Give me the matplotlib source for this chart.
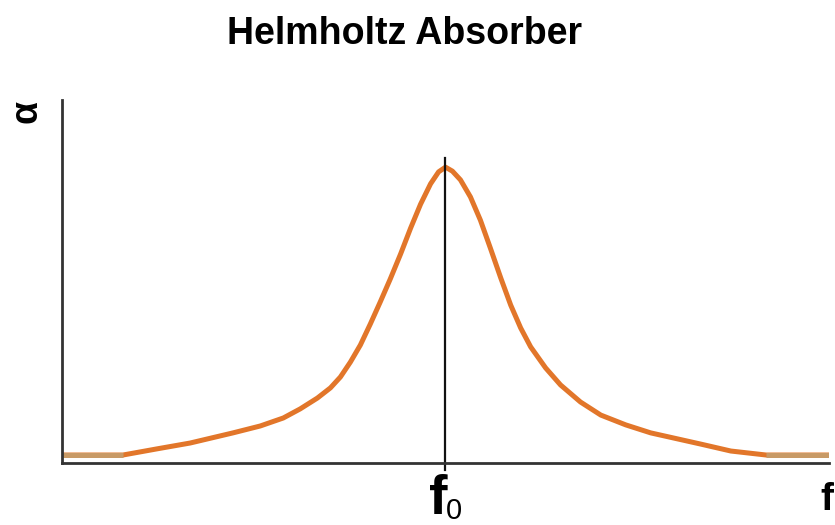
import matplotlib
matplotlib.use("Agg")
import matplotlib.pyplot as plt

# Absorption curve of a Helmholtz resonator, frequency given relative to f0
freq = [0.0, 0.159, 0.248, 0.334, 0.446, 0.517, 0.577, 0.621, 0.666, 0.700,
        0.726, 0.752, 0.778, 0.804, 0.830, 0.856, 0.883, 0.909, 0.935, 0.961,
        0.982, 1.0, 1.018, 1.039, 1.065, 1.091, 1.117, 1.144, 1.170, 1.196,
        1.222, 1.261, 1.300, 1.352, 1.405, 1.470, 1.535, 1.666, 1.744, 1.836,
        2.0]
alpha = [0.022, 0.022, 0.039, 0.055, 0.083, 0.102, 0.124, 0.149, 0.179, 0.207,
         0.237, 0.278, 0.325, 0.383, 0.444, 0.507, 0.576, 0.647, 0.713, 0.769,
         0.802, 0.815, 0.804, 0.780, 0.733, 0.669, 0.592, 0.510, 0.435, 0.372,
         0.320, 0.262, 0.215, 0.168, 0.132, 0.105, 0.083, 0.052, 0.033, 0.022,
         0.022]
f0 = 1.0
marker_top = 0.84

W, H = 835, 525
fig = plt.figure(figsize=(W / 100, H / 100), dpi=100)
ax = fig.add_axes([62 / W, (H - 463) / H, 767 / W, 363 / H])

line_kw = dict(lw=3.6, solid_capstyle="butt", solid_joinstyle="round")
ax.plot(freq, alpha, color="#e2762a", **line_kw)
# flat baseline stretches at both ends
ax.plot(freq[:2], alpha[:2], color="#c89a66", **line_kw)
ax.plot(freq[-2:], alpha[-2:], color="#c89a66", **line_kw)

ax.plot([f0, f0], [-0.02, marker_top], color="#111111", lw=1.6, clip_on=False)

ax.set_xlim(0, 2)
ax.set_ylim(0, 1)
for side in ("top", "right"):
    ax.spines[side].set_visible(False)
for side in ("left", "bottom"):
    ax.spines[side].set_color("#333333")
    ax.spines[side].set_linewidth(2)
ax.set_xticks([])
ax.set_yticks([])

fig.text(405 / W, 1 - 34 / H, "Helmholtz Absorber", ha="center", va="center",
         fontsize=27, fontweight="bold", family="Liberation Sans")
fig.text(26 / W, 1 - 111 / H, "α", ha="center", va="center", rotation=90,
         fontsize=27, fontweight="bold", family="Liberation Sans")
fig.text(438 / W, 1 - 500 / H, "f", ha="center", va="center",
         fontsize=40, fontweight="bold", family="Liberation Sans")
fig.text(454 / W, 1 - 511 / H, "0", ha="center", va="center",
         fontsize=21, family="Liberation Sans")
fig.text(827 / W, 1 - 500 / H, "f", ha="center", va="center",
         fontsize=28, fontweight="bold", family="Liberation Sans")

fig.savefig("out.png", dpi=100)
